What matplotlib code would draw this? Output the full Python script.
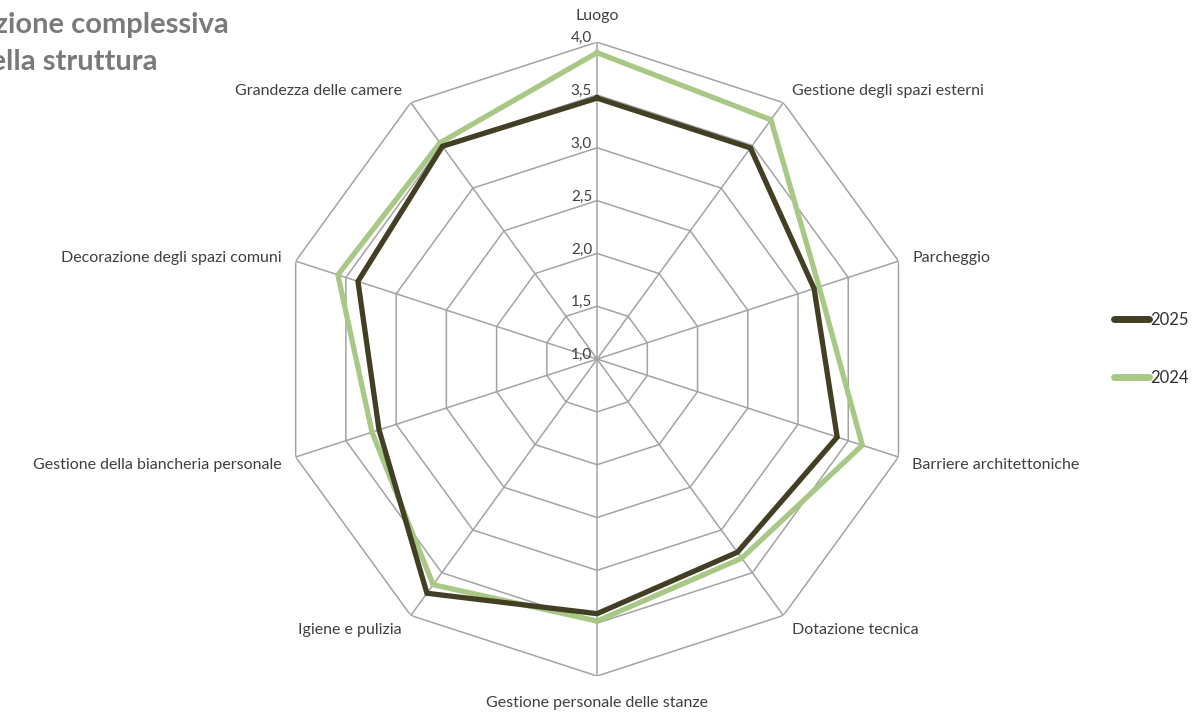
import numpy as np
import matplotlib.pyplot as plt

plt.rcParams['font.family'] = ['Lato', 'DejaVu Sans']

categorie = ['Luogo', 'Gestione degli spazi esterni', 'Parcheggio',
             'Barriere architettoniche', 'Dotazione tecnica',
             'Gestione personale delle stanze', 'Igiene e pulizia',
             'Gestione della biancheria personale',
             'Decorazione degli spazi comuni', 'Grandezza delle camere']
val_2025 = [3.47, 3.47, 3.16, 3.39, 3.26, 3.41, 3.74, 3.17, 3.38, 3.49]
val_2024 = [3.90, 3.80, 3.21, 3.64, 3.33, 3.48, 3.64, 3.24, 3.58, 3.53]
anelli = [1.0, 1.5, 2.0, 2.5, 3.0, 3.5, 4.0]
etichette_anelli = ['1,0', '1,5', '2,0', '2,5', '3,0', '3,5', '4,0']

n = len(categorie)
angoli = np.linspace(0, 2 * np.pi, n, endpoint=False)
angoli_chiusi = np.append(angoli, angoli[0])

fig = plt.figure(figsize=(11.92, 7.13), dpi=100)
ax = fig.add_axes([0.2349, 0.0519, 0.532, 0.889], projection='polar')
ax.set_theta_zero_location('N')
ax.set_theta_direction(-1)
ax.set_ylim(1, 4)
ax.grid(False)
ax.spines['polar'].set_visible(False)
ax.set_xticks([])
ax.set_yticks([])

# griglia poligonale
grigio = '#a3a3a3'
for r in anelli[1:]:
    ax.plot(angoli_chiusi, [r] * (n + 1), color=grigio, lw=1.1, zorder=1)
for a in angoli:
    ax.plot([a, a], [1, 4], color=grigio, lw=1.1, zorder=1)

# etichette scala
for r, t in zip(anelli, etichette_anelli):
    ax.annotate(t, xy=(0, r), xytext=(-5, -3), textcoords='offset pixels',
                ha='right', va='bottom', fontsize=11, color='#404040')

# serie
scuro = '#433f25'
verde = '#a8c886'
ax.plot(angoli_chiusi, val_2024 + val_2024[:1], color=verde, lw=3.8, zorder=3,
        solid_joinstyle='miter')
ax.plot(angoli_chiusi, val_2025 + val_2025[:1], color=scuro, lw=3.8, zorder=4,
        solid_joinstyle='miter')

# etichette categorie
offset = [(0, 26, 'center'), (9, 12, 'left'), (14, 3, 'left'), (14, -8, 'left'),
          (9, -15, 'left'), (0, -27, 'center'), (-9, -15, 'right'),
          (-14, -8, 'right'), (-14, 3, 'right'), (-9, 12, 'right')]
for a, c, (dx, dy, ha) in zip(angoli, categorie, offset):
    ax.annotate(c, xy=(a, 4), xytext=(dx, dy), textcoords='offset pixels',
                ha=ha, va='center', fontsize=11.5, color='#404040',
                annotation_clip=False)

# titolo (tagliato a sinistra come nell'originale)
fig.text(229 / 1192, 1 - 25 / 713, 'Valutazione complessiva', ha='right', va='center',
         fontsize=21, fontweight='bold', color='#7a7a7a')
fig.text(158 / 1192, 1 - 62 / 713, 'della struttura', ha='right', va='center',
         fontsize=21, fontweight='bold', color='#7a7a7a')

# legenda
h1, = ax.plot([], [], color=scuro, lw=5, solid_capstyle='round')
h2, = ax.plot([], [], color=verde, lw=5, solid_capstyle='round')
fig.legend([h1, h2], ['2025', '2024'], loc='center left',
           bbox_to_anchor=(1114 / 1192, 1 - 349 / 713), frameon=False,
           fontsize=12, handlelength=2.1, handletextpad=0.1,
           labelspacing=2.5, borderpad=0, borderaxespad=0,
           labelcolor='#303030')

fig.savefig('out.png', dpi=100)
